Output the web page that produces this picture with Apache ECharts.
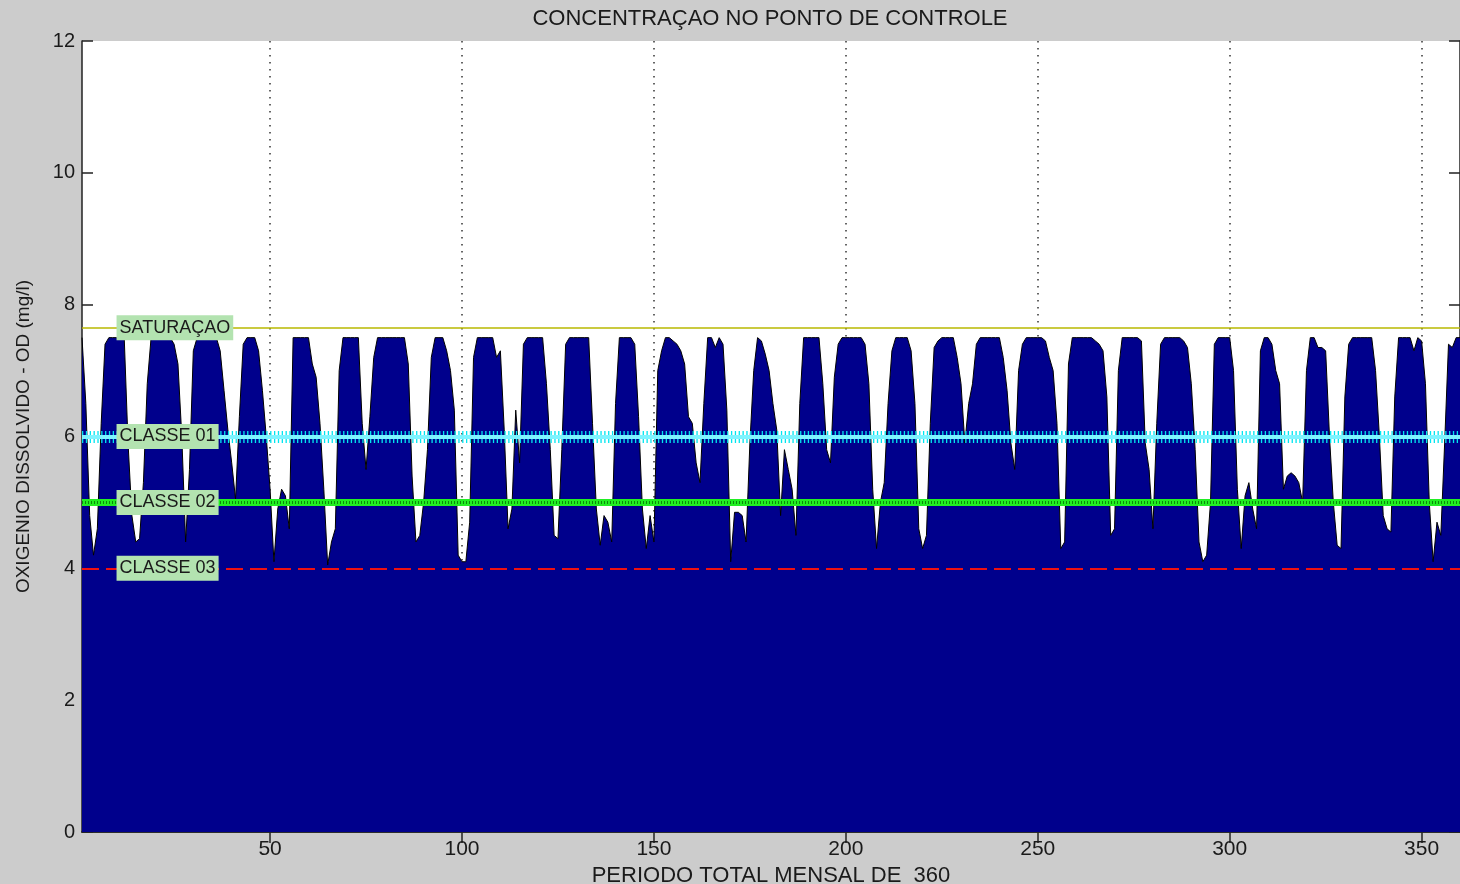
<!DOCTYPE html>
<html><head><meta charset="utf-8">
<script src="https://cdn.jsdelivr.net/npm/echarts@6/dist/echarts.min.js"></script>
<style>html,body{margin:0;padding:0;background:#cccccc}#c{width:1460px;height:884px}</style>
</head><body><div id="c"></div>
<script>
const titleText = 'CONCENTRAÇAO NO PONTO DE CONTROLE';
const xAxisName = 'PERIODO TOTAL MENSAL DE  360';
const yAxisName = 'OXIGENIO DISSOLVIDO - OD (mg/l)';
const periodCount = 360;
const periods = [];
for (let i = 1; i <= periodCount; i++) periods.push(i);
const xTickStep = 50;
const yMin = 0, yMax = 12, yStep = 2;

const oxygen = [
7.5,6.5,4.8,4.2,4.6,6.2,7.4,7.5,7.5,7.5,
7.5,7.5,5.9,4.8,4.4,4.45,5.3,6.8,7.5,7.5,
7.5,7.5,7.5,7.5,7.4,7.1,6.0,4.4,5.5,7.3,
7.5,7.5,7.5,7.5,7.5,7.5,7.3,6.7,6.1,5.6,
5.05,6.3,7.4,7.5,7.5,7.5,7.3,6.7,6.0,5.2,
4.1,4.9,5.2,5.1,4.6,7.5,7.5,7.5,7.5,7.5,
7.1,6.9,6.2,5.2,4.05,4.4,4.6,7.0,7.5,7.5,
7.5,7.5,7.5,6.2,5.5,6.3,7.2,7.5,7.5,7.5,
7.5,7.5,7.5,7.5,7.5,7.1,5.4,4.4,4.5,5.0,
5.8,7.2,7.5,7.5,7.5,7.3,7.0,6.4,4.2,4.1,
4.1,4.7,7.2,7.5,7.5,7.5,7.5,7.5,7.2,7.3,
6.1,4.6,4.9,6.4,5.6,7.4,7.5,7.5,7.5,7.5,
7.5,6.8,5.8,4.5,4.45,5.8,7.4,7.5,7.5,7.5,
7.5,7.5,7.5,6.2,4.9,4.35,4.8,4.7,4.4,6.5,
7.5,7.5,7.5,7.5,7.4,6.3,4.9,4.3,4.8,4.4,
7.0,7.3,7.5,7.5,7.45,7.4,7.3,7.1,6.3,6.2,
5.6,5.3,6.5,7.5,7.5,7.35,7.5,7.4,6.4,4.1,
4.85,4.85,4.8,4.4,5.9,7.0,7.5,7.45,7.25,7.0,
6.5,6.1,4.8,5.8,5.5,5.2,4.5,6.5,7.5,7.5,
7.5,7.5,7.5,6.8,5.8,5.6,6.9,7.4,7.5,7.5,
7.5,7.5,7.5,7.5,7.4,6.8,5.2,4.3,5.0,5.3,
6.5,7.3,7.5,7.5,7.5,7.5,7.3,6.5,4.6,4.3,
4.5,6.2,7.35,7.45,7.5,7.5,7.5,7.5,7.2,6.8,
5.9,6.5,6.8,7.4,7.5,7.5,7.5,7.5,7.5,7.5,
7.2,6.7,5.9,5.5,7.0,7.4,7.5,7.5,7.5,7.5,
7.5,7.45,7.2,7.0,6.2,4.3,4.4,7.1,7.5,7.5,
7.5,7.5,7.5,7.5,7.45,7.4,7.3,6.6,4.5,4.6,
7.0,7.5,7.5,7.5,7.5,7.5,7.45,5.9,5.5,4.6,
6.2,7.4,7.5,7.5,7.5,7.5,7.5,7.45,7.35,6.8,
5.8,4.4,4.1,4.2,5.0,7.4,7.5,7.5,7.5,7.5,
7.0,5.2,4.3,5.1,5.3,4.9,4.6,7.3,7.5,7.5,
7.4,7.0,6.8,5.2,5.4,5.45,5.4,5.3,5.0,7.0,
7.5,7.5,7.35,7.35,7.3,6.0,5.0,4.35,4.3,6.6,
7.4,7.5,7.5,7.5,7.5,7.5,7.5,7.0,6.0,4.8,
4.6,4.55,6.6,7.5,7.5,7.5,7.5,7.3,7.5,7.45,
6.8,5.0,4.1,4.7,4.5,5.9,7.4,7.35,7.5,7.5
];

const refNames = ['SATURAÇAO', 'CLASSE 01', 'CLASSE 02', 'CLASSE 03'];
const refLevels = [7.65, 6, 5, 4];
const labelPeriodIndex = 9;

const FONT = 'Liberation Sans, Arial, sans-serif';
const isTick = (idx) => (idx + 1) % xTickStep === 0;

const chart = echarts.init(document.getElementById('c'), null, {renderer: 'canvas'});

const labelBox = {
  show: true, position: 'right', distance: 0,
  formatter: '{b}', color: '#1a1a1a', fontFamily: FONT, fontSize: 18,
  backgroundColor: '#b3e3b0', padding: [4, 3, 3, 3]
};

chart.setOption({
  backgroundColor: '#cccccc',
  animation: false,
  graphic: [{
    type: 'text', x: 770, y: 8,
    style: {text: titleText, font: '22px ' + FONT, fill: '#1a1a1a', textAlign: 'center'}
  }],
  grid: {left: 82, right: 0, top: 41, bottom: 52, show: true, backgroundColor: '#ffffff',
         borderWidth: 0, outerBoundsMode: 'none', containLabel: false},
  xAxis: [{
    type: 'category', data: periods, boundaryGap: false,
    name: xAxisName, nameLocation: 'middle', nameGap: 29,
    nameTextStyle: {fontFamily: FONT, fontSize: 22, color: '#1a1a1a', verticalAlign: 'top'},
    axisLine: {lineStyle: {color: '#222', width: 1.5}},
    axisTick: {inside: true, length: 11, interval: isTick, lineStyle: {color: '#222', width: 1.5}},
    axisLabel: {interval: isTick, fontFamily: FONT, fontSize: 21, color: '#1a1a1a', margin: 7},
    splitLine: {show: true, interval: isTick, lineStyle: {color: '#333', width: 1.5, type: [1.5, 5.5]}}
  }, {
    type: 'category', data: periods, boundaryGap: false, position: 'top',
    axisLine: {lineStyle: {color: '#222', width: 1.5}},
    axisTick: {inside: true, length: 11, interval: isTick, lineStyle: {color: '#222', width: 1.5}},
    axisLabel: {show: false}, splitLine: {show: false}
  }],
  yAxis: [{
    type: 'value', min: yMin, max: yMax, interval: yStep,
    name: yAxisName, nameLocation: 'middle', nameGap: 49, nameRotate: 90,
    nameTextStyle: {fontFamily: FONT, fontSize: 19, color: '#1a1a1a'},
    axisLine: {show: true, lineStyle: {color: '#222', width: 1.5}},
    axisTick: {show: true, inside: true, length: 11, lineStyle: {color: '#222', width: 1.5}},
    axisLabel: {fontFamily: FONT, fontSize: 20, color: '#1a1a1a', margin: 7},
    splitLine: {show: false}
  }, {
    type: 'value', min: yMin, max: yMax, interval: yStep, position: 'right',
    axisLine: {show: true, lineStyle: {color: '#222', width: 1.5}},
    axisTick: {show: true, inside: true, length: 11, lineStyle: {color: '#222', width: 1.5}},
    axisLabel: {show: false}, splitLine: {show: false}
  }],
  series: [{
    type: 'line', data: oxygen, symbol: 'none', z: 2,
    lineStyle: {color: '#000000', width: 1},
    areaStyle: {color: '#00008c', opacity: 1}
  }, {
    type: 'line', data: [], z: 5, silent: true,
    markLine: {
      symbol: ['none', 'none'], silent: true, label: {show: false}, animation: false,
      emphasis: {disabled: true},
      data: [
        {yAxis: refLevels[0], lineStyle: {color: '#b8b800', width: 1.6, type: 'solid', opacity: 1}},
        {yAxis: refLevels[1], lineStyle: {color: '#00e6f0', width: 12, type: [1.3, 2.54], opacity: 1}},
        {yAxis: refLevels[1], lineStyle: {color: '#7ff4ff', width: 4, type: 'solid', opacity: 1}},
        {yAxis: refLevels[2], lineStyle: {color: '#22ee22', width: 7, type: 'solid', opacity: 1}},
        {yAxis: refLevels[2], lineStyle: {color: '#0a8a0a', width: 3, type: [1, 2], opacity: 1}},
        {yAxis: refLevels[3], lineStyle: {color: '#ee1111', width: 2, type: [17, 7], opacity: 1}}
      ]
    },
    markPoint: {
      symbol: 'rect', symbolSize: 0, silent: true, animation: false,
      label: labelBox,
      data: refNames.map((n, k) => ({name: n, coord: [labelPeriodIndex, refLevels[k]]}))
    }
  }]
});
</script></body></html>
